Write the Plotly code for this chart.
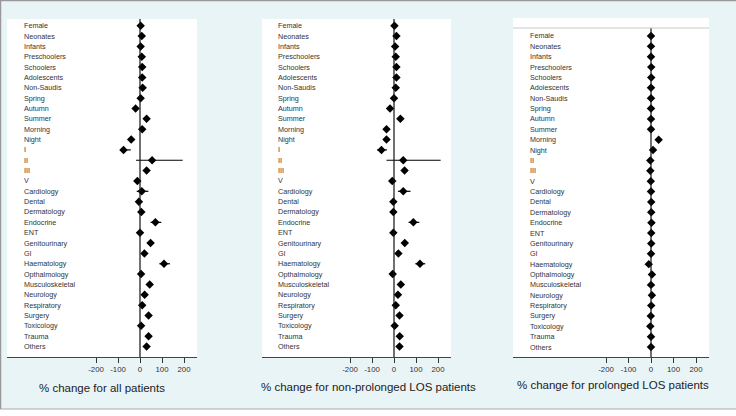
import plotly.graph_objects as go

W, H = 736, 416

cats_all = ["Female", "Neonates", "Infants", "Preschoolers", "Schoolers", "Adolescents",
            "Non-Saudis", "Spring", "Autumn", "Summer", "Morning", "Night", "I", "II", "III", "V",
            "Cardiology", "Dental", "Dermatology", "Endocrine", "ENT", "Genitourinary", "GI",
            "Haematology", "Opthalmology", "Musculoskeletal", "Neurology", "Respiratory",
            "Surgery", "Toxicology", "Trauma", "Others"]

# Panel 1: all patients
est1 = [3, 8, 3, 8, 10, 10, 12, 3, -20, 30, 10, -40, -75, 55, 30, -12,
        8, -5, 6, 70, 0, 48, 20, 109, 5, 44, 21, 10, 39, 5, 39, 30]
lo1 = [0, 5, 0, 5, 7, 7, 9, 0, -24, 26, 7, -45, -88, -18, 26, -16,
       -15, -9, 2, 48, -4, 33, 15, 88, 1, 38, 16, 6, 33, 1, 34, 26]
hi1 = [6, 11, 6, 11, 13, 13, 15, 6, -16, 34, 13, -35, -42, 194, 34, -8,
       38, -1, 10, 97, 4, 64, 25, 136, 9, 50, 26, 14, 45, 9, 44, 34]

# Panel 2: non-prolonged LOS patients
est2 = [2, 11, 5, 8, 11, 11, 8, 0, -18, 29, -34, -34, -57, 42, 48, -8,
        42, -3, -3, 88, -3, 49, 20, 118, -6, 31, 18, 8, 25, 3, 26, 25]
lo2 = [-1, 8, 2, 5, 8, 8, 5, -3, -22, 25, -38, -38, -77, -34, 44, -12,
       18, -7, -7, 66, -7, 43, 16, 97, -10, 26, 14, 4, 20, -1, 22, 21]
hi2 = [5, 14, 8, 11, 14, 14, 11, 3, -14, 33, -30, -30, -32, 212, 52, -4,
       75, 1, 1, 115, 1, 55, 24, 142, -2, 36, 22, 12, 30, 7, 30, 29]

# Panel 3: prolonged LOS patients (no "I")
cats_pro = [c for c in cats_all if c != "I"]
est3 = [0, 0, 0, 1, 1, 0, 0, 0, 0, 0, 34, 9, -3, -3, -1,
        0, 1, 1, 2, 1, 1, 0, -10, 4, 0, 4, 1, -1, -3, 0, 0]
lo3 = [v - 3 for v in est3]
hi3 = [v + 3 for v in est3]

tick_vals = [-200, -100, 0, 100, 200]
tick_text = ["-200", "-100", "0", "100", "200"]

titles = ["% change for all patients",
          "% change for non-prolonged LOS patients",
          "% change for prolonged LOS patients"]

# panel geometry in pixels
panels = [
    dict(cats=cats_all, est=est1, lo=lo1, hi=hi1, x0=7, x1=197, zero=140, ppu=0.22,
         ytop=19, ybot=357, row0=25.7, step=10.35, white_top=19, labx=22, title_x=102, title_y=388),
    dict(cats=cats_all, est=est2, lo=lo2, hi=hi2, x0=262, x1=451, zero=394, ppu=0.22,
         ytop=19, ybot=357, row0=25.7, step=10.35, white_top=19, labx=276, title_x=368, title_y=387),
    dict(cats=cats_pro, est=est3, lo=lo3, hi=hi3, x0=513, x1=709, zero=651, ppu=0.225,
         ytop=28, ybot=357, row0=36, step=10.37, white_top=18, labx=528, title_x=613, title_y=385),
]

fig = go.Figure()
shapes = []
annotations = []

bg = "#e9f4f7"
FONT = "Liberation Sans, Arial"

for k, p in enumerate(panels):
    xa = "x" if k == 0 else f"x{k+1}"
    ya = "y" if k == 0 else f"y{k+1}"
    n = len(p["cats"])
    yidx = list(range(n))
    err_plus = [h - e for h, e in zip(p["hi"], p["est"])]
    err_minus = [e - l for e, l in zip(p["est"], p["lo"])]
    fig.add_trace(go.Scatter(
        x=p["est"], y=yidx, mode="markers", xaxis=xa, yaxis=ya,
        marker=dict(symbol="diamond", size=6.5, color="black"),
        error_x=dict(type="data", array=err_plus, arrayminus=err_minus,
                     thickness=1.2, width=0, color="black"),
        showlegend=False, hoverinfo="skip"))

    xr = [(p["x0"] - p["zero"]) / p["ppu"], (p["x1"] - p["zero"]) / p["ppu"]]
    yr = [(p["ybot"] - p["row0"]) / p["step"], (p["ytop"] - p["row0"]) / p["step"]]
    xdom = [p["x0"] / W, p["x1"] / W]
    ydom = [1 - p["ybot"] / H, 1 - p["ytop"] / H]

    xkey = "xaxis" if k == 0 else f"xaxis{k+1}"
    ykey = "yaxis" if k == 0 else f"yaxis{k+1}"
    fig.update_layout(**{
        xkey: dict(domain=xdom, range=xr, anchor=ya, tickvals=tick_vals, ticktext=tick_text,
                   ticks="outside", ticklen=5, tickwidth=1, tickcolor="#333",
                   showline=True, linecolor="#444", linewidth=1,
                   showgrid=False, zeroline=False,
                   tickfont=dict(family=FONT, size=7.8, color="#333")),
        ykey: dict(domain=ydom, range=yr, anchor=xa, showticklabels=False,
                   showgrid=False, zeroline=False, showline=False, ticks=""),
    })

    # white panel background
    shapes.append(dict(type="rect", xref="paper", yref="paper", layer="below",
                       x0=p["x0"] / W, x1=p["x1"] / W,
                       y0=1 - p["ybot"] / H, y1=1 - p["white_top"] / H,
                       fillcolor="white", line=dict(width=0)))
    # zero reference line
    shapes.append(dict(type="line", xref=xa, yref=f"{ya} domain", x0=0, x1=0, y0=0, y1=1,
                       line=dict(color="#111", width=1.2)))
    # category labels
    for i, c in enumerate(p["cats"]):
        annotations.append(dict(text=c, xref="paper", yref=ya, x=p["labx"] / W, y=i,
                                xanchor="left", yanchor="middle", showarrow=False,
                                font=dict(family=FONT, size=7.2, color="#333")))
    annotations.append(dict(text=titles[k], xref="paper", yref="paper",
                            x=p["title_x"] / W, y=1 - p["title_y"] / H,
                            xanchor="center", yanchor="middle", showarrow=False,
                            font=dict(family=FONT, size=11.5, color="#222")))

# top separator line in third panel
shapes.append(dict(type="line", xref="paper", yref="paper", x0=513 / W, x1=709 / W,
                   y0=1 - 28 / H, y1=1 - 28 / H, line=dict(color="#c8c8c8", width=1)))
# outer frame
shapes.append(dict(type="rect", xref="paper", yref="paper", layer="below",
                   x0=0, x1=1, y0=0, y1=1 - 409 / H, fillcolor="white", line=dict(width=0)))
shapes.append(dict(type="line", xref="paper", yref="paper", x0=0, x1=1,
                   y0=1 - 409 / H, y1=1 - 409 / H, line=dict(color="#aaa", width=1)))
shapes.append(dict(type="line", xref="paper", yref="paper", x0=0, x1=1,
                   y0=1 - 0.5 / H, y1=1 - 0.5 / H, line=dict(color="#999", width=1.5)))
shapes.append(dict(type="line", xref="paper", yref="paper", x0=0.5 / W, x1=0.5 / W,
                   y0=1 - 409 / H, y1=1, line=dict(color="#999", width=1.5)))

fig.update_layout(width=W, height=H, margin=dict(l=0, r=0, t=0, b=0),
                  paper_bgcolor=bg, plot_bgcolor="rgba(0,0,0,0)",
                  shapes=shapes, annotations=annotations)

fig.write_html("out.html", config={"displayModeBar": False},
               post_script="document.body.style.margin='0';document.body.style.overflow='hidden';")
